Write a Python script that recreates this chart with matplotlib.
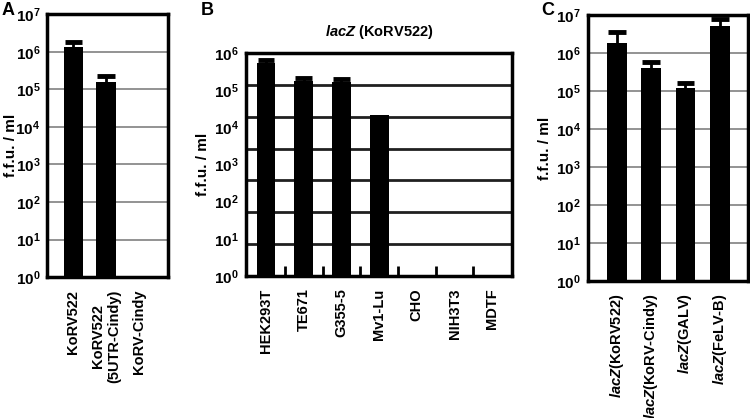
import numpy as np
import matplotlib.pyplot as plt

plt.rcParams['font.family'] = ['Liberation Sans', 'DejaVu Sans']
plt.rcParams['font.weight'] = 'bold'
plt.rcParams['mathtext.fontset'] = 'custom'
plt.rcParams['mathtext.it'] = 'Liberation Sans:italic:bold'
plt.rcParams['mathtext.rm'] = 'Liberation Sans:bold'

# panel A
a_names = ['KoRV522', 'KoRV522\n(5UTR-Cindy)', 'KoRV-Cindy']
a_vals = [1.3e6, 1.6e5, 0]
a_err = [1.8e6, 2.2e5, 0]

# panel B
b_names = ['HEK293T', 'TE671', 'G355-5', 'Mv1-Lu', 'CHO', 'NIH3T3', 'MDTF']
b_vals = [5.4e5, 1.8e5, 1.7e5, 2.1e4, 0, 0, 0]
b_err = [6.5e5, 2.2e5, 2.0e5, 0, 0, 0, 0]

# panel C
c_names = ['$lacZ$(KoRV522)', '$lacZ$(KoRV-Cindy)', '$lacZ$(GALV)', '$lacZ$(FeLV-B)']
c_vals = [1.8e6, 4.0e5, 1.2e5, 5.0e6]
c_err = [3.5e6, 5.9e5, 1.6e5, 7.7e6]

fig = plt.figure(figsize=(7.5, 4.18), dpi=100)


def draw(ax, names, vals, errs, width, xlim, ytop, letter, letter_xy):
    x = np.arange(len(names))
    v = np.array(vals, dtype=float)
    e = np.array(errs, dtype=float)
    keep = v > 0
    ax.set_yscale('log')
    ax.set_ylim(1, ytop)
    ax.set_xlim(*xlim)
    # error bars (upper only)
    for xi, vi, ei in zip(x[keep], v[keep], e[keep]):
        if ei > vi:
            ax.plot([xi, xi], [vi, ei], color='black', lw=2, zorder=3)
            ax.plot([xi - width * 0.45, xi + width * 0.45], [ei, ei], color='black', lw=3.5,
                    solid_capstyle='butt', zorder=3)
    ax.bar(x[keep], v[keep], width=width, color='black', zorder=3)
    ax.set_xticks(x)
    ax.set_xticklabels(names, rotation=90, fontsize=10.5, fontweight='bold')
    ax.tick_params(axis='x', length=0, pad=9)
    ndec = int(round(np.log10(ytop)))
    ax.set_yticks([10.0 ** k for k in range(ndec + 1)])
    ax.set_yticklabels(['$10^{%d}$' % k for k in range(ndec + 1)], fontsize=11)
    ax.minorticks_off()
    ax.tick_params(axis='y', length=0, pad=5)
    for s in ax.spines.values():
        s.set_linewidth(2.5)
    ax.set_ylabel('f.f.u. / ml', fontsize=11, fontweight='bold', labelpad=3)
    fig.text(letter_xy[0], letter_xy[1], letter, fontsize=13, fontweight='bold', va='top')
    return x


axA = fig.add_axes([0.063, 0.337, 0.161, 0.629])
draw(axA, a_names, a_vals, a_err, 0.6, (-0.8, 2.9), 1e7, 'A', (0.002, 0.995))
for k in range(1, 7):
    axA.axhline(10.0 ** k, color='#8a8a8a', lw=1.3, zorder=1)
axA.yaxis.set_label_coords(-0.245, 0.5)

axB = fig.add_axes([0.328, 0.340, 0.355, 0.533])
xb = draw(axB, b_names, b_vals, b_err, 0.5, (-0.53, 6.53), 1e6, 'B', (0.267, 0.995))
# gridlines in the original sit at 7 even divisions, not on the labelled decades
for k in range(1, 7):
    axB.axhline(10.0 ** (6 * k / 7), color='#202020', lw=2, zorder=1)
axB.set_xticks(xb[:-1] + 0.5, minor=True)
axB.tick_params(axis='x', which='minor', direction='in', length=7, width=2, bottom=True)
axB.set_title('$lacZ$ (KoRV522)', fontsize=10.5, fontweight='bold', pad=12)

axC = fig.add_axes([0.784, 0.328, 0.213, 0.636])
draw(axC, c_names, c_vals, c_err, 0.58, (-0.85, 3.82), 1e7, 'C', (0.722, 0.995))
for k in range(1, 7):
    axC.axhline(10.0 ** k, color='#8a8a8a', lw=1.3, zorder=1)

fig.savefig('out.png', dpi=100)
